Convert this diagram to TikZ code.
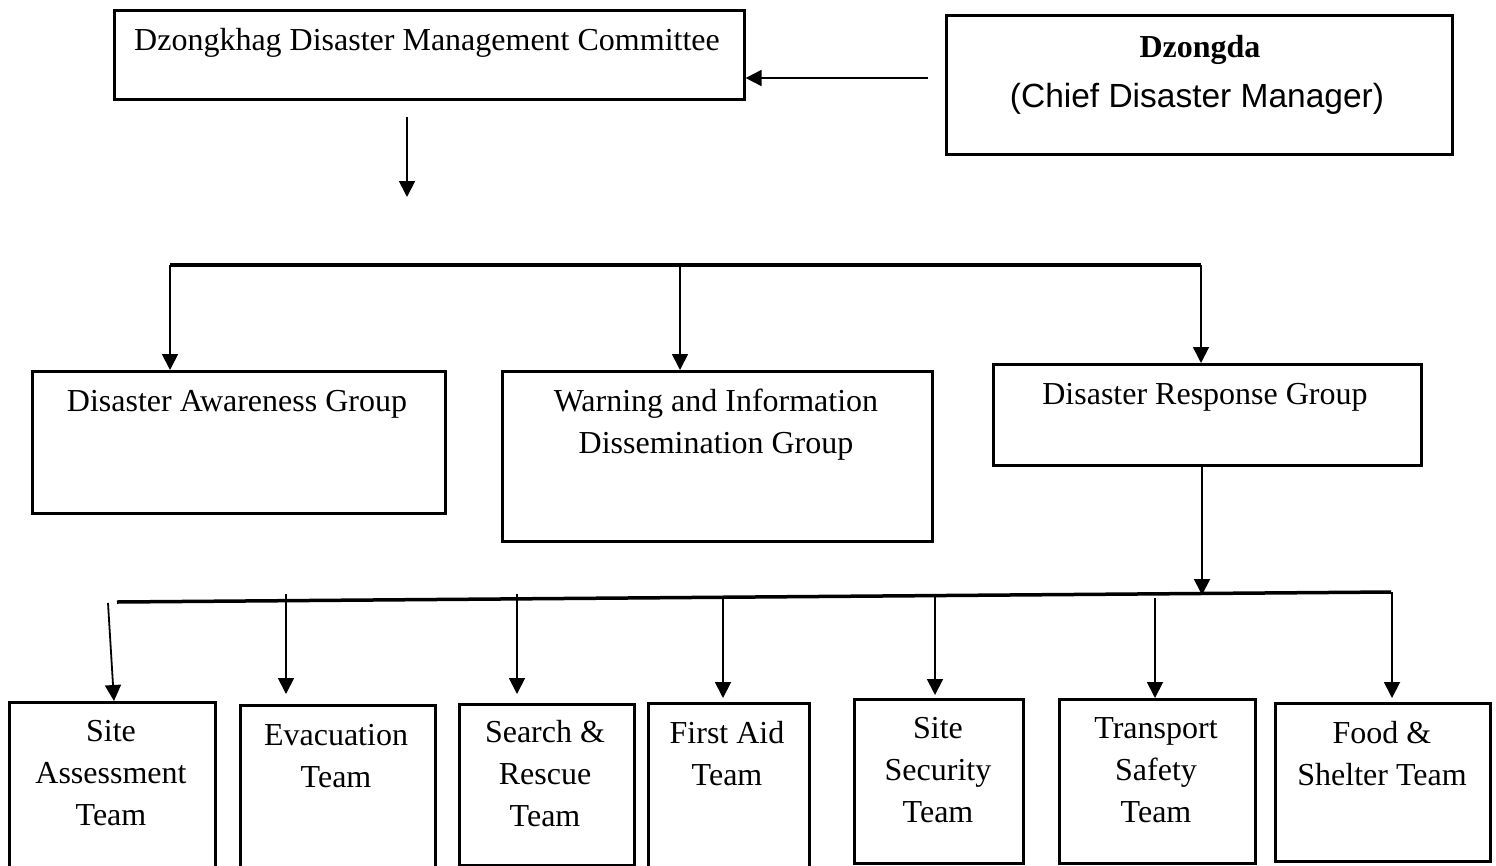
\documentclass[tikz,border=0pt]{standalone}
\usepackage{fontspec}
\setmainfont{Liberation Serif}
\newfontfamily\chieffont{Liberation Sans}
\usetikzlibrary{arrows.meta}
\tikzset{
  box/.style={draw, line width=2.6pt, inner sep=0pt},
  conn/.style={line width=1.8pt},
  bus/.style={line width=3.5pt},
  arr/.style={conn, -{Triangle[length=16pt,width=16pt]}},
  txt/.style={align=center, inner sep=0pt, anchor=base, font=\fontsize{32}{42}\selectfont},
}
\begin{document}
\begin{tikzpicture}[x=1pt, y=-1pt]
\useasboundingbox (0,0) rectangle (1496,865);
% top boxes
\node[box, anchor=north west, minimum width=630pt, minimum height=89pt] (ddmc) at (113,9) {};
\node[txt] (ddmct) at (427,50) {Dzongkhag Disaster Management Committee};
\node[box, anchor=north west, minimum width=506pt, minimum height=139pt] (dz) at (945,14) {};
\node[txt, font=\fontsize{32}{42}\selectfont\bfseries] (dzt) at (1200,57) {Dzongda};
\node[txt, font=\fontsize{33.5}{42}\chieffont] (chief) at (1197,107) {(Chief Disaster Manager)};
% groups
\node[box, anchor=north west, minimum width=413pt, minimum height=142pt] (dag) at (31,370) {};
\node[txt] (dagt) at (237,411) {Disaster Awareness Group};
\node[box, anchor=north west, minimum width=430pt, minimum height=170pt] (wig) at (501,370) {};
\node[txt] (wigt) at (716,453) {Warning and Information\\Dissemination Group};
\node[box, anchor=north west, minimum width=428pt, minimum height=101pt] (drg) at (992,363) {};
\node[txt] (drgt) at (1205,404) {Disaster Response Group};
% teams
\node[box, anchor=north west, minimum width=206pt, minimum height=175pt] (site) at (8,701) {};
\node[txt] (sitet) at (111,825) {Site\\Assessment\\Team};
\node[box, anchor=north west, minimum width=195pt, minimum height=175pt] (evac) at (239,704) {};
\node[txt] (evact) at (336,787) {Evacuation\\Team};
\node[box, anchor=north west, minimum width=175pt, minimum height=161pt] (sr) at (458,703) {};
\node[txt] (srt) at (545,826) {Search \&\\Rescue\\Team};
\node[box, anchor=north west, minimum width=161pt, minimum height=175pt] (fa) at (647,702) {};
\node[txt] (fat) at (727,785) {First Aid\\Team};
\node[box, anchor=north west, minimum width=169pt, minimum height=164pt] (sec) at (853,698) {};
\node[txt] (sect) at (938,822) {Site\\Security\\Team};
\node[box, anchor=north west, minimum width=196pt, minimum height=164pt] (tr) at (1058,698) {};
\node[txt] (trt) at (1156,822) {Transport\\Safety\\Team};
\node[box, anchor=north west, minimum width=215pt, minimum height=158pt] (fs) at (1274,702) {};
\node[txt] (fst) at (1382,785) {Food \&\\Shelter Team};
% connectors top
\coordinate (dzs) at (928,78);
\draw[arr] (dzs) -- (ddmc.east |- dzs);
\coordinate (d1) at (407,117);
\coordinate (d2) at (407,197);
\draw[arr] (d1) -- (d2);
\coordinate (bl) at (170,265);
\coordinate (bm) at (680,265);
\coordinate (br) at (1201,265);
\draw[bus] (bl) -- (br);
\draw[arr] (bl) -- (bl |- dag.north);
\draw[arr] (bm) -- (bm |- wig.north);
\draw[arr] (br) -- (br |- drg.north);
% lower bus
\coordinate (l1) at (117,602);
\coordinate (l2) at (1391,592);
\coordinate (rd) at (1202,595);
\draw[arr] (drg.south -| rd) -- (rd);
\draw[bus] (l1) -- (l2);
\coordinate (s0) at (108,603);
\coordinate (e0) at (286,594);
\coordinate (r0) at (517,594);
\coordinate (f0) at (723,598);
\coordinate (c0) at (935,595);
\coordinate (t0) at (1155,598);
\coordinate (o0) at (1392,592);
\draw[arr] (s0) -- (site.north -| 114,0);
\draw[arr, shorten >=10pt] (e0) -- (e0 |- evac.north);
\draw[arr, shorten >=9pt] (r0) -- (r0 |- sr.north);
\draw[arr, shorten >=4pt] (f0) -- (f0 |- fa.north);
\draw[arr, shorten >=3pt] (c0) -- (c0 |- sec.north);
\draw[arr] (t0) -- (t0 |- tr.north);
\draw[arr, shorten >=4pt] (o0) -- (o0 |- fs.north);
\end{tikzpicture}
\end{document}
